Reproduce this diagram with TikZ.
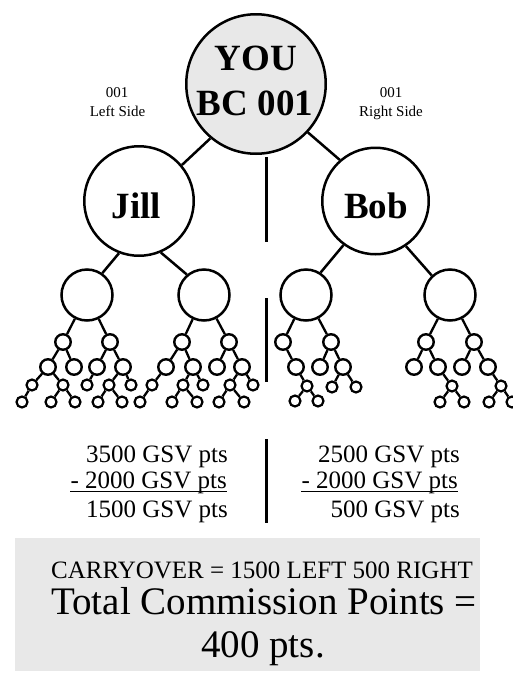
\documentclass[tikz,border=0pt]{standalone}
\usepackage{fontspec}
\setmainfont{Liberation Serif}
\definecolor{boxgray}{HTML}{E8E8E8}
\begin{document}
\begin{tikzpicture}[x=1pt,y=-1pt,
  bigc/.style={circle,draw,line width=2.5pt,inner sep=0pt},
  lvtwo/.style={circle,draw,line width=2.5pt,inner sep=0pt,minimum size=51pt},
  lvmid/.style={circle,draw,line width=2.4pt,inner sep=0pt,minimum size=15.5pt},
  lvsmall/.style={circle,draw,line width=2.2pt,inner sep=0pt,minimum size=11pt},
  bigedge/.style={line width=2.5pt},
  smalledge/.style={line width=2.3pt},
  divider/.style={line width=3pt},
  txtbase/.style={inner sep=0pt,anchor=base},
  bigname/.style={txtbase,font=\fontsize{37}{44}\selectfont\bfseries},
  sidetxt/.style={txtbase,font=\fontsize{15}{18}\selectfont},
  gsv/.style={inner sep=0pt,anchor=base east,font=\fontsize{25}{30}\selectfont},
  ulline/.style={line width=1.2pt}]
\clip (0,0) rectangle (513,673);
% summary box
\fill[boxgray] (15,538) rectangle (480,671);

% main circles
\node[bigc,fill=boxgray,minimum size=139.5pt] (you) at (256,84) {};
\node[bigc,minimum size=109.5pt] (jill) at (139,201) {};
\node[bigc,minimum size=106.5pt] (bob) at (375.5,201) {};
\node[bigname] (youtxt) at (256,70) {YOU};
\node[bigname] (bctxt) at (255,115) {BC 001};
\node[bigname] (jilltxt) at (136.5,218) {Jill};
\node[bigname] (bobtxt) at (376,218) {Bob};
\node[sidetxt] (l1) at (117,97) {001};
\node[sidetxt] (l2) at (117.5,116) {Left Side};
\node[sidetxt] (r1) at (391,97) {001};
\node[sidetxt] (r2) at (391,116) {Right Side};

\draw[bigedge] (you.230) -- (jill.40);
\draw[bigedge] (you.317) -- (bob.131);

% level 2
\node[lvtwo] (LL) at (87,295) {};
\node[lvtwo] (LR) at (204,295) {};
\node[lvtwo] (RL) at (306,295) {};
\node[lvtwo] (RR) at (450,295) {};
\draw[bigedge] (jill.249) -- (LL.55);
\draw[bigedge] (jill.293) -- (LR.130);
\draw[bigedge] (bob.234) -- (RL.57);
\draw[bigedge] (bob.304) -- (RR.133);

% level 3 and 4 (medium)
\foreach \n/\x/\y in {a1/63/342,a2/110/342,a3/182/342,a4/229/342,a5/283/342,a6/331/342,a7/426/342,a8/474/342,
  b1/48/367,b2/74/367,b3/97/367,b4/123/367,b5/166/367,b6/193/367,b7/217/367,b8/242/367,
  b9/296/367,b10/320/367,b11/343/367,b12/414/367,b13/438/367,b14/462/367,b15/488/367}
  \node[lvmid] (\n) at (\x,\y) {};
% level 5 and 6 (small)
\foreach \n/\x/\y in {c1/32/385,c2/63/385,c3/87/385,c4/109/385,c5/131/385,c6/152/385,c7/183/385,c8/203/385,c9/230/385,c10/253/385,
  c11/307/386,c12/332/387,c13/356/387,c14/452/386,c15/501/386,
  d1/22/402,d2/51/402,d3/75/402,d4/98/402,d5/122/402,d6/140/402,d7/172/402,d8/197/402,d9/219/402,d10/244/402,
  d11/295/401,d12/318/401,d13/440/402,d14/464/402,d15/489/402,d16/512/402}
  \node[lvsmall] (\n) at (\x,\y) {};

\foreach \p/\c in {LL/a1,LL/a2,LR/a3,LR/a4,RL/a5,RL/a6,RR/a7,RR/a8,
  a1/b1,a1/b2,a2/b3,a2/b4,a3/b5,a3/b6,a4/b7,a4/b8,a5/b9,a6/b10,a6/b11,a7/b12,a7/b13,a8/b14,a8/b15,
  b1/c1,b1/c2,b3/c3,b4/c4,b4/c5,b5/c6,b6/c7,b6/c8,b8/c9,b8/c10,b9/c11,b11/c12,b11/c13,b13/c14,b15/c15,
  c1/d1,c2/d2,c2/d3,c4/d4,c4/d5,c6/d6,c7/d7,c7/d8,c9/d9,c9/d10,c11/d11,c11/d12,c14/d13,c14/d14,c15/d15,c15/d16}
  \draw[smalledge] (\p) -- (\c);

% dividers
\coordinate (v1a) at (266,157); \coordinate (v1b) at (266,242);
\coordinate (v2a) at (266,298); \coordinate (v2b) at (266,382);
\coordinate (v3a) at (266,439); \coordinate (v3b) at (266,523);
\draw[divider] (v1a) -- (v1b);
\draw[divider] (v2a) -- (v2b);
\draw[divider] (v3a) -- (v3b);

% GSV columns
\node[gsv] (g1) at (228,462) {3500 GSV pts};
\node[gsv] (g2) at (227,488) {- 2000 GSV pts};
\node[gsv] (g3) at (228,517) {1500 GSV pts};
\node[gsv] (h1) at (460,462) {2500 GSV pts};
\node[gsv] (h2) at (458,488) {- 2000 GSV pts};
\node[gsv] (h3) at (460,517) {500 GSV pts};
\draw[ulline] ([yshift=-3.5pt]g2.base west) -- ([yshift=-3.5pt]g2.base east);
\draw[ulline] ([yshift=-3.5pt]h2.base west) -- ([yshift=-3.5pt]h2.base east);

% summary text
\node[txtbase,font=\fontsize{25}{30}\selectfont] (carry) at (262,578) {CARRYOVER = 1500 LEFT 500 RIGHT};
\node[txtbase,font=\fontsize{39}{46}\selectfont] (total) at (264,614) {Total Commission Points =};
\node[txtbase,font=\fontsize{39}{46}\selectfont] (pts) at (263,657) {400 pts.};
\end{tikzpicture}
\end{document}
